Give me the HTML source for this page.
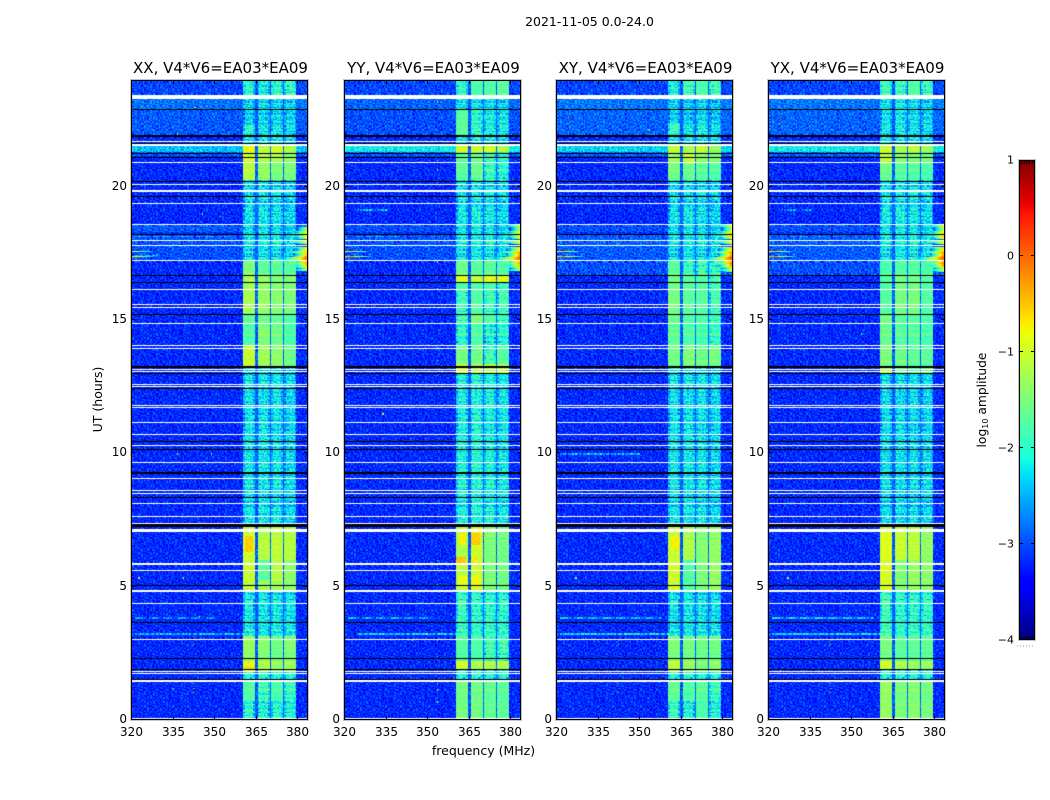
<!DOCTYPE html>
<html>
<head>
<meta charset="utf-8">
<title>2021-11-05 0.0-24.0</title>
<style>
html,body{margin:0;padding:0;background:#fff;}
#stage{position:relative;width:1050px;height:800px;overflow:hidden;background:#fff;}
canvas{position:absolute;display:block;}
svg{position:absolute;left:0;top:0;}
text{font-family:"DejaVu Sans","Liberation Sans",sans-serif;fill:#000;}
</style>
</head>
<body>
<div id="stage">
<canvas id="heatmap-xx" width="177" height="640" style="left:131px;top:80px"></canvas>
<canvas id="heatmap-yy" width="177" height="640" style="left:344px;top:80px"></canvas>
<canvas id="heatmap-xy" width="177" height="640" style="left:556px;top:80px"></canvas>
<canvas id="heatmap-yx" width="177" height="640" style="left:768px;top:80px"></canvas>
<canvas id="colorbar" width="16" height="480" style="left:1019px;top:160px"></canvas>
<svg id="overlay" width="1050" height="800">
<text x="589.5" y="26" font-size="12.5" text-anchor="middle">2021-11-05 0.0-24.0</text>
<text x="483.5" y="755" font-size="12.5" text-anchor="middle">frequency (MHz)</text>
<text x="0" y="0" font-size="12.5" text-anchor="middle" transform="translate(102,399.5) rotate(-90)">UT (hours)</text>
<text x="0" y="0" font-size="12.3" text-anchor="middle" transform="translate(986,400) rotate(-90)">log<tspan font-size="8" dy="2">10</tspan><tspan dy="-2"> amplitude</tspan></text>
</svg>
</div>
<script>
// ---- axis tick data ----
const freqTicks = [320, 335, 350, 365, 380];
const timeTicks = [0, 5, 10, 15, 20];
const colorbarTicks = [1, 0, -1, -2, -3, -4];
const panelNames = ["XX", "YY", "XY", "YX"];

// ---- frequency layout of the four signal bands (MHz) ----
const bandStarts = [360.5, 365.6, 370.7, 375.6];
const bandEnds = [364.8, 369.9, 375.0, 379.8];

// ---- band log10 amplitude by time span: [UT from, UT to, band A, B, C, D] ----
const xxSegments = [
[24,23.43,-2.0,-2.15,-1.95,-1.95],[23.43,22.3,-2.3,-2.25,-2.25,-2.3],[22.3,21.94,-2.0,-2.2,-2.15,-2.3],
[21.94,21.6,-2.25,-2.2,-2.2,-2.3],[21.6,21.3,-0.9,-1.1,-1.0,-1.2],[21.3,20.9,-1.0,-1.2,-1.2,-1.4],
[20.9,20.25,-1.15,-1.35,-1.5,-1.5],[20.25,17.2,-2.2,-2.2,-2.2,-2.3],[17.2,16.68,-1.5,-1.7,-1.7,-1.75],
[16.68,15.25,-1.25,-1.35,-1.45,-1.5],[15.25,14.9,-1.7,-1.6,-1.65,-1.8],[14.9,14.05,-1.75,-1.45,-1.55,-1.8],
[14.05,13.25,-1.05,-1.3,-1.4,-1.6],[13.25,7.3,-2.2,-2.2,-2.2,-2.3],[7.3,5.98,-1.0,-1.15,-1.1,-1.15],
[5.98,5.2,-1.05,-1.7,-1.15,-1.4],[5.2,4.85,-1.1,-1.3,-1.3,-1.4],[4.85,3.15,-2.15,-2.2,-2.15,-2.2],
[3.15,2.2,-1.35,-1.45,-1.6,-1.5],[2.2,1.85,-0.9,-1.2,-1.35,-1.3],[1.85,1.5,-2.0,-2.0,-2.0,-2.0],
[1.5,0.7,-1.75,-1.85,-1.8,-1.9],[0.7,0,-2.0,-2.1,-2.0,-2.1]];
const yySegments = [
[24,23.43,-1.95,-1.8,-1.75,-1.7],[23.43,22.9,-2.2,-2.2,-2.2,-2.3],[22.9,21.94,-1.7,-1.95,-2.1,-2.2],
[21.94,21.6,-2.2,-2.2,-2.2,-2.3],[21.6,21.3,-0.95,-1.0,-1.0,-1.2],[21.3,20.25,-1.7,-1.6,-1.85,-2.0],
[20.25,17.2,-2.15,-2.15,-2.15,-2.25],[17.2,16.68,-1.6,-1.7,-1.7,-1.8],[16.68,16.4,-0.95,-1.1,-0.85,-0.9],
[16.4,16.1,-1.8,-1.8,-1.8,-1.9],[16.1,15.2,-1.9,-1.75,-1.9,-1.85],[15.2,14.9,-1.85,-1.5,-1.75,-1.9],
[14.9,14.05,-1.95,-1.75,-2.0,-2.0],[14.05,13.35,-1.55,-1.6,-1.85,-1.75],[13.35,13.0,-0.95,-1.15,-1.15,-1.1],
[13.0,7.3,-2.1,-2.05,-2.1,-2.2],[7.3,6.85,-1.1,-0.8,-1.4,-1.5],[6.85,6.1,-1.25,-1.0,-1.5,-1.55],
[6.1,5.87,-1.1,-0.95,-1.5,-1.55],[5.87,4.85,-1.15,-1.05,-1.5,-1.55],[4.85,3.15,-1.9,-2.0,-1.95,-2.0],
[3.15,2.2,-1.75,-1.8,-1.85,-1.9],[2.2,1.9,-1.0,-1.2,-1.2,-1.2],[1.9,1.5,-2.0,-2.0,-2.0,-2.0],
[1.5,0,-1.55,-1.55,-1.65,-1.7]];
const xySegments = [
[24,23.43,-2.1,-1.85,-1.8,-1.85],[23.43,22.4,-2.3,-2.35,-2.25,-2.4],[22.4,21.94,-1.9,-2.2,-2.1,-2.3],
[21.94,21.6,-2.25,-2.25,-2.25,-2.3],[21.6,21.3,-1.05,-1.2,-1.05,-1.35],[21.3,20.85,-1.35,-1.1,-1.4,-1.5],
[20.85,20.25,-1.55,-1.6,-1.7,-1.75],[20.25,17.2,-2.2,-2.2,-2.2,-2.3],[17.2,16.68,-1.7,-1.9,-1.85,-2.0],
[16.68,15.2,-1.55,-1.7,-1.75,-1.85],[15.2,14.05,-1.65,-1.75,-1.8,-1.9],[14.05,13.25,-1.55,-1.5,-1.6,-1.55],
[13.25,7.3,-2.2,-2.2,-2.2,-2.3],[7.3,5.98,-1.05,-1.2,-1.45,-1.35],[5.98,4.85,-1.0,-1.75,-1.5,-1.35],
[4.85,3.15,-2.2,-2.2,-2.2,-2.25],[3.15,2.2,-1.5,-1.55,-1.6,-1.6],[2.2,1.85,-1.1,-1.3,-1.5,-1.4],
[1.85,1.5,-2.0,-2.0,-2.0,-2.0],[1.5,0.7,-1.65,-1.75,-1.7,-1.9],[0.7,0,-1.9,-2.1,-1.8,-2.1]];
const yxSegments = [
[24,23.43,-1.85,-1.9,-1.75,-1.9],[23.43,21.94,-2.2,-2.15,-2.2,-2.3],[21.94,21.6,-2.2,-2.2,-2.2,-2.3],
[21.6,21.3,-1.05,-1.2,-1.1,-1.3],[21.3,20.85,-1.15,-1.45,-1.5,-1.55],[20.85,20.25,-1.6,-1.7,-1.75,-1.8],
[20.25,17.2,-2.15,-2.15,-2.15,-2.25],[17.2,16.68,-1.8,-1.75,-1.75,-1.8],[16.68,15.2,-1.75,-1.55,-1.55,-1.75],
[15.2,14.05,-1.6,-1.7,-1.7,-1.8],[14.05,13.25,-1.5,-1.6,-1.7,-1.7],[13.25,13.0,-1.2,-1.6,-1.7,-1.5],
[13.0,7.3,-2.25,-2.25,-2.25,-2.3],[7.3,5.98,-1.0,-1.05,-1.1,-1.35],[5.98,4.85,-0.95,-1.45,-1.35,-1.4],
[4.85,3.15,-1.85,-2.0,-1.95,-1.95],[3.15,2.2,-1.55,-1.7,-1.7,-1.7],[2.2,1.9,-1.0,-1.2,-1.35,-1.3],
[1.9,1.5,-2.0,-2.0,-2.0,-2.0],[1.5,0,-1.35,-1.5,-1.45,-1.55]];

// ---- background level by time span: [UT from, UT to, log10 amplitude] ----
const xxBackground = [[24,23.43,-3.05],[23.3,22.9,-2.82],[22.9,21.9,-2.95],[21.55,21.3,-2.45],[21.3,21.15,-2.95],[18.6,18.3,-2.95],[18.2,17.2,-3.0]];
const yyBackground = [[24,23.43,-3.05],[23.3,22.9,-2.9],[22.9,21.9,-3.0],[21.55,21.3,-2.2],[21.3,21.15,-2.95],[18.6,18.3,-3.0],[18.2,17.2,-3.0]];
const xyBackground = [[24,23.43,-3.05],[23.3,22.9,-2.8],[22.9,21.9,-2.9],[21.55,21.3,-2.35],[21.3,21.15,-2.9],[18.6,18.3,-3.0],[18.2,17.2,-2.95],[17.2,16.7,-3.0]];
const yxBackground = [[24,23.43,-3.05],[23.3,22.9,-2.8],[22.9,21.9,-2.9],[21.55,21.3,-2.2],[21.3,21.15,-2.9],[18.6,18.3,-3.0],[18.2,17.2,-2.95],[17.2,16.7,-3.0]];

// ---- flagged integrations: [UT, thickness in hours] ----
const whiteRows = [[23.37,.16],[21.69,.05],[21.56,.08],[20.90,.04],[20.08,.04],[19.83,.07],[19.38,.04],[18.57,.04],[18.0,.04],[17.79,.04],[17.23,.04],[16.14,.04],[15.57,.04],[15.47,.04],[14.87,.04],[14.04,.04],[13.95,.04],[13.15,.04],[13.08,.04],[12.58,.04],[12.51,.04],[11.80,.04],[11.73,.04],[11.17,.04],[10.71,.04],[10.29,.04],[9.65,.04],[9.05,.04],[8.62,.04],[8.51,.04],[8.11,.04],[7.62,.04],[7.38,.04],[7.10,.10],[5.85,.07],[5.60,.04],[4.83,.07],[4.36,.04],[3.01,.04],[1.82,.04],[1.73,.04],[1.46,.07],[0.07,.04]];
const blackRows = [[22.90,.04],[21.91,.08],[21.62,.04],[21.26,.04],[21.11,.04],[20.21,.04],[19.64,.04],[18.22,.04],[16.68,.04],[16.41,.04],[15.20,.04],[13.24,.06],[13.0,.04],[12.44,.04],[10.46,.04],[10.14,.04],[9.28,.06],[8.34,.04],[7.28,.11],[5.06,.04],[3.65,.04],[2.30,.04],[1.88,.04],[1.52,.04]];

// ---- right-edge interference wedge: [UT from, UT to, level at band edge] ----
const xxWedge = [[18.5,18.3,-0.9],[18.3,18.05,-0.5],[18.0,17.85,-0.7],[17.75,17.55,-0.5],[17.55,17.4,-0.2],[17.4,17.2,0.15],[17.2,17.0,-0.1],[17.0,16.85,-1.1]];
const crossWedge = [[18.6,18.3,-0.8],[18.3,18.05,-0.3],[18.0,17.85,-0.6],[17.75,17.55,-0.3],[17.55,17.4,0.05],[17.4,17.2,0.3],[17.2,17.0,0.1],[17.0,16.8,-0.9]];
const yyWedge = [[18.6,18.35,-1.0],[18.35,18.05,-0.6],[18.0,17.85,-0.6],[17.75,17.55,-0.4],[17.55,17.4,0.0],[17.4,17.2,0.2],[17.2,17.0,-0.1],[17.0,16.85,-1.0]];

// ---- left-edge bursts: [UT from, UT to, peak level] ----
const leftBursts = [[17.58,17.53,-0.4],[17.38,17.33,-0.1]];

// ---- isolated hot pixels: [frequency MHz, UT, level] ----
const xxSpots = [[342.5,18.45,-0.4],[342.5,18.0,-1.6],[342.5,3.12,0.0],[342.5,2.82,-1.3],[342.5,1.37,-1.0],[342.5,1.18,-0.7],[342.5,1.03,-0.7],[326.5,22.53,-0.3],[337,22.0,-0.9],[339,5.3,-0.9],[345,3.85,-0.6],[349,10.0,-1.0],[337,10.0,-0.9],[352,18.9,-1.0],[350,22.6,-1.0],[343,23.0,-0.9],[323,5.3,-1.0],[335,1.2,-1.8],[348,3.25,0.1],[330,3.25,0.1],[346,19.0,-1.2]];
const yySpots = [[354,23.2,-0.9],[354,21.6,-0.6],[354,21.0,-1.6],[354,20.6,-1.4],[354,20.2,-1.5],[354,17.2,-1.4],[354,16.6,-1.3],[354,16.2,-1.4],[354,14.0,-1.3],[354,13.5,-1.2],[354,12.9,-1.5],[354,6.0,-1.0],[354,5.7,-1.1],[354,5.05,-1.2],[354,3.0,-1.3],[354,2.4,-1.2],[354,1.4,-1.2],[354,1.1,-1.1],[354,0.7,-1.4],[350,3.25,-1.0],[348,20.95,0.2],[348,17.0,-1.2],[345,3.0,-1.1],[334,11.5,-1.0],[353,18.1,-1.4]];
const xySpots = [[342.4,23.05,-0.4],[342.4,18.45,0.2],[342.4,18.25,-0.1],[342.4,18.0,-1.4],[342.4,17.9,-1.2],[324.3,22.57,0.2],[324.3,22.4,-0.4],[342.4,3.17,0.2],[342.4,2.98,0.2],[342.4,2.8,-1.5],[342.4,1.37,-1.3],[342.4,1.18,0.2],[342.4,1.03,-0.6],[324.3,2.83,0.2],[354,22.1,-0.9],[354,16.1,-1.6],[327,5.3,-1.4],[354,19.5,-1.6]];
const yxSpots = [[342.4,23.05,-0.4],[342.4,18.45,0.2],[342.4,18.25,-0.3],[342.4,18.0,-1.9],[342.4,17.9,0.1],[324.3,22.57,0.2],[324.3,22.4,-0.4],[342.4,3.17,0.2],[342.4,2.98,0.2],[342.4,2.8,-0.7],[342.4,1.37,-1.6],[342.4,1.18,-0.9],[342.4,1.03,-0.6],[324.3,2.83,0.2],[324.3,1.9,-1.1],[354,16.1,-1.8],[354,15.2,-1.9],[354,14.5,-1.8],[354,12.8,-1.8],[327,5.3,-1.4],[356,2.8,-1.9]];

// ---- faint horizontal interference: [UT, from MHz, to MHz, level] ----
const xxStreaks = [[3.83,322,350,-2.8],[3.24,322,361,-2.5],[18.1,320,357,-2.7],[17.45,320,330,-2.6]];
const yyStreaks = [[3.83,322,352,-2.7],[3.24,325,361,-2.4],[19.1,325,335,-2.6],[18.55,325,335,-2.7],[18.1,325,340,-2.7]];
const xyStreaks = [[3.83,322,358,-2.6],[3.24,322,361,-2.3],[10.0,322,350,-2.6]];
const yxStreaks = [[3.83,322,358,-2.5],[3.24,322,361,-2.3],[19.1,325,335,-2.8],[18.1,325,345,-2.8]];

// ---- bright patches inside bands: [UT from, UT to, from MHz, to MHz, level] ----
const xxPatches = [[6.9,6.3,361,364.4,-0.55],[2.0,1.9,361,364.5,-0.6]];
const yyPatches = [[7.0,6.55,361.5,364,-0.75],[7.0,6.55,366,369,-0.55],[6.1,5.87,360.5,364,-0.5],[6.1,5.87,366,368,-0.7],[5.4,5.0,361,364.5,-0.85],[5.4,5.0,366,369,-0.8]];
const xyPatches = [[6.9,6.4,361.5,364.5,-0.75]];
const yxPatches = [[7.0,6.0,361,364.5,-0.9]];

const speckleTile = [
"46253717482963514273859146258","37519462830571648295371604827","62948135706284917356482093751",
"15736492850437261984537162946","84261750394628513740692845173","29573816402759361482957036184",
"51804693725816402937548162739","73692415806347295180463792518","40517382964150837629415083762",
"96283504718296350471829635047","28471950362784195036278491503","65039274815603927481560392748",
"13758629407135862940713586294","49726183560492618356049261835","82105473698210547369821054736",
"37694815207369481520736948152","50482637915048263791504826379","74916205384749162053847491620",
"26358491703263584917032635849","91740368526917403685269174036","43587129460435871294604358712",
"68201593874682015938746820159","15973460285159734602851597346"];
const rowStripes = [1,-1,2,0,-2,1,3,-1,0,-3,2,1,-2,0,2,-1,-2,3,0,1,-3,1,2,-1,0,-2,3,1,-1,-2,0,2,-3,1,0,2,-1,1,-2,3,-1];

// ---- per-panel lookups ----
const panelLefts = [131, 344, 556, 768];
const panelSegments = [xxSegments, yySegments, xySegments, yxSegments];
const panelBackground = [xxBackground, yyBackground, xyBackground, yxBackground];
const panelWedge = [xxWedge, yyWedge, crossWedge, crossWedge];
const panelSpots = [xxSpots, yySpots, xySpots, yxSpots];
const panelStreaks = [xxStreaks, yyStreaks, xyStreaks, yxStreaks];
const panelPatches = [xxPatches, yyPatches, xyPatches, yxPatches];
const panelBurstScale = [-0.5, 0, 0, 0.1];
const canvasIds = ["heatmap-xx", "heatmap-yy", "heatmap-xy", "heatmap-yx"];

// ---- scales ----
const fMin = 320, fMax = 383.9, tMax = 24, panelW = 177, panelH = 640, panelTop = 80;
const channelCount = 120, rowCount = 480;
function xScale(f) { return (f - fMin) / (fMax - fMin) * panelW; }
function yScale(t) { return (tMax - t) / tMax * panelH; }
function levelToUnit(L) { return (L + 4) / 5; }

function ramp(v, pts) {
  for (let k = 1; k < pts.length; k++) {
    if (v <= pts[k][0]) {
      const a = pts[k - 1], b = pts[k];
      return a[1] + (b[1] - a[1]) * (v - a[0]) / (b[0] - a[0]);
    }
  }
  return pts[pts.length - 1][1];
}
const jetR = [[0,0],[.35,0],[.66,1],[.89,1],[1,.5]];
const jetG = [[0,0],[.125,0],[.375,1],[.64,1],[.91,0],[1,0]];
const jetB = [[0,.5],[.11,1],[.34,1],[.65,0],[1,0]];
const colorCache = {};
function jetColor(L) {
  const q = Math.max(0, Math.min(600, Math.round(levelToUnit(L) * 600)));
  if (colorCache[q]) return colorCache[q];
  const v = q / 600;
  const c = "rgb(" + Math.round(ramp(v, jetR) * 255) + "," + Math.round(ramp(v, jetG) * 255) + "," + Math.round(ramp(v, jetB) * 255) + ")";
  colorCache[q] = c;
  return c;
}

function speckle(i, j) {
  const r = speckleTile[j % speckleTile.length];
  const shift = 5 * Math.floor(j / speckleTile.length);
  return (r.charCodeAt((i + shift) % r.length) - 48 - 4.5) / 4.5;
}
function spanValue(list, t) {
  for (const s of list) if (t <= s[0] && t > s[1]) return s;
  return null;
}
function bandIndex(f) {
  for (let b = 0; b < bandStarts.length; b++) if (f >= bandStarts[b] && f <= bandEnds[b]) return b;
  return -1;
}

function cellLevel(p, i, j, f, t) {
  const sp = speckle(i, j);
  const stripe = rowStripes[j % rowStripes.length];
  const bg = spanValue(panelBackground[p], t);
  const bgL = bg ? bg[2] : -3.2;
  let L = bgL + sp * 0.36;
  const b = bandIndex(f);
  if (f >= bandStarts[0] && f <= bandEnds[3]) {
    if (b >= 0) {
      const seg = spanValue(panelSegments[p], t);
      const lev = seg ? seg[2 + b] : -2.1;
      const low = lev < -1.8;
      const edge = Math.min(f - bandStarts[b], bandEnds[b] - f) < 0.55;
      L = lev + sp * (low ? 0.42 : 0.2) + stripe * (low ? 0.08 : 0.04) - (low && edge ? 0.3 : 0);
    } else {
      L = -2.92 + sp * 0.25;
    }
    for (const q of panelPatches[p]) {
      if (t <= q[0] && t > q[1] && f >= q[2] && f <= q[3]) L = q[4] + sp * 0.1;
    }
  } else if (f > bandEnds[3]) {
    L = bgL + 0.02 + sp * 0.32;
  }
  const w = spanValue(panelWedge[p], t);
  if (w && f > 370) {
    const reach = stripe > 0 ? 0.3 : 0.52;
    const wl = w[2] - (fMax - f) * reach + sp * 0.06;
    if (wl > L) L = wl;
  }
  if (f < 340) {
    const lb = spanValue(leftBursts, t);
    if (lb) {
      const bl = lb[2] + panelBurstScale[p] - Math.abs(f - 322.2) * 0.35 + sp * 0.1;
      if (bl > L) L = bl;
    }
  }
  return L;
}

function drawPanel(p) {
  const ctx = document.getElementById(canvasIds[p]).getContext("2d");
  ctx.fillStyle = "#0000a0";
  ctx.fillRect(0, 0, panelW, panelH);
  const df = (fMax - fMin) / channelCount, dt = tMax / rowCount;
  function cell(i, j, L) {
    const f0 = fMin + i * df, t0 = tMax - j * dt;
    const x0 = Math.round(xScale(f0)), x1 = Math.round(xScale(f0 + df));
    const y0 = Math.round(yScale(t0)), y1 = Math.round(yScale(t0 - dt));
    ctx.fillStyle = jetColor(L);
    ctx.fillRect(x0, y0, Math.max(1, x1 - x0), Math.max(1, y1 - y0));
  }
  for (let j = 0; j < rowCount; j++) {
    const t = tMax - (j + 0.5) * dt;
    for (let i = 0; i < channelCount; i++) {
      cell(i, j, cellLevel(p, i, j, fMin + (i + 0.5) * df, t));
    }
  }
  for (const s of panelStreaks[p]) {
    const j = Math.floor((tMax - s[0]) / dt);
    for (let i = Math.floor((s[1] - fMin) / df); i <= Math.floor((s[2] - fMin) / df); i++) {
      const sp = speckle(i, j + 3);
      cell(i, j, s[3] + sp * 0.55);
    }
  }
  for (const s of panelSpots[p]) {
    cell(Math.floor((s[0] - fMin) / df), Math.floor((tMax - s[1]) / dt), s[2]);
  }
  const stripe = (row, color, xStart) => {
    const h = Math.max(1, Math.round(row[1] * panelH / tMax));
    const y = Math.round(yScale(row[0]) - h / 2);
    ctx.fillStyle = color;
    ctx.fillRect(xStart, y, panelW - xStart, h);
  };
  for (const r of whiteRows) stripe(r, "#ffffff", 1);
  for (const r of blackRows) stripe(r, "#000000", 0);
}

const overlay = document.getElementById("overlay");
const NS = "http://www.w3.org/2000/svg";

function addLine(x1, y1, x2, y2, name) {
  const el = document.createElementNS(NS, "line");
  el.setAttribute("x1", x1);
  el.setAttribute("y1", y1);
  el.setAttribute("x2", x2);
  el.setAttribute("y2", y2);
  el.setAttribute("stroke", "#000");
  el.setAttribute("stroke-width", "1");
  
  
  overlay.appendChild(el);
  return el;
}
function addText(x, y, str, anchor, size, name) {
  const el = document.createElementNS(NS, "text");
  el.setAttribute("x", x);
  el.setAttribute("y", y);
  el.setAttribute("text-anchor", anchor);
  el.setAttribute("font-size", size);
  
  
  el.textContent = str;
  overlay.appendChild(el);
  return el;
}
function addFrame(x, y, w, h, stroke, name) {
  const el = document.createElementNS(NS, "rect");
  el.setAttribute("x", x);
  el.setAttribute("y", y);
  el.setAttribute("width", w);
  el.setAttribute("height", h);
  el.setAttribute("fill", "none");
  el.setAttribute("stroke", stroke);
  el.setAttribute("stroke-width", "1");
  
  
  overlay.appendChild(el);
  return el;
}

function drawAxes(p) {
  const left = panelLefts[p];
  const tag = panelNames[p].toLowerCase();
  addFrame(left - 0.5, panelTop - 0.5, panelW + 1, panelH + 1, "#c4c4c4", "frame-halo-" + tag);
  addFrame(left + 0.5, panelTop + 0.5, panelW - 1, panelH - 1, "#000", "frame-" + tag);
  addText(left + panelW / 2 + 1, 73, panelNames[p] + ", V4*V6=EA03*EA09", "middle", 15, "panel-title-" + tag);
  for (const f of freqTicks) {
    const x = Math.round(left + xScale(f)) + 0.5;
    addLine(x, panelTop + panelH, x, panelTop + panelH - 4, "x-tick-" + f);
    addLine(x, panelTop, x, panelTop + 4, "x-tick-top-" + f);
    addText(x, panelTop + panelH + 16, String(f), "middle", 12, "x-tick-label-" + f);
  }
  for (const t of timeTicks) {
    const y = Math.round(panelTop + yScale(t)) - 0.5;
    addLine(left, y, left + 4, y, "y-tick-" + t);
    addLine(left + panelW, y, left + panelW - 4, y, "y-tick-right-" + t);
    addText(left - 4, y + 3.5, String(t), "end", 12, "y-tick-label-" + t);
  }
}

function drawColorbar() {
  const ctx = document.getElementById("colorbar").getContext("2d");
  const barH = 480, barW = 16;
  for (let y = 0; y < barH; y++) {
    ctx.fillStyle = jetColor(1 - (y + 0.5) / barH * 5);
    ctx.fillRect(0, y, barW, 1);
  }
  const x0 = 1019, y0 = 160;
  addFrame(x0 - 0.5, y0 - 0.5, barW + 1, barH + 1, "#c4c4c4", "colorbar-halo");
  addFrame(x0 + 0.5, y0 + 0.5, barW - 1, barH - 1, "#000", "colorbar-frame");
  for (const v of colorbarTicks) {
    const y = Math.round(y0 + (1 - v) / 5 * barH) - 0.5;
    if (v !== 1 && v !== -4) {
      addLine(x0, y, x0 + 4, y, "colorbar-tick-" + v);
      addLine(x0 + barW, y, x0 + barW - 4, y, "colorbar-tick-right-" + v);
    }
    const label = v < 0 ? "\u2212" + Math.abs(v) : String(v);
    addText(x0 - 5, y + 4, label, "end", 11, "colorbar-tick-label-" + v);
  }
  for (let k = 1; k < 6; k++) {
    const x = x0 + k * barW / 6;
    addLine(x, y0, x, y0 + 4, "colorbar-minor-top");
    addLine(x, y0 + barH, x, y0 + barH - 4, "colorbar-minor-bottom");
  }
  const dots = addLine(1017, 646, 1035, 646, "colorbar-offset-dots");
  dots.setAttribute("stroke", "#999");
  dots.setAttribute("stroke-dasharray", "1 2");
}

for (let p = 0; p < panelNames.length; p++) {
  drawPanel(p);
  drawAxes(p);
}
drawColorbar();
</script>
</body>
</html>
